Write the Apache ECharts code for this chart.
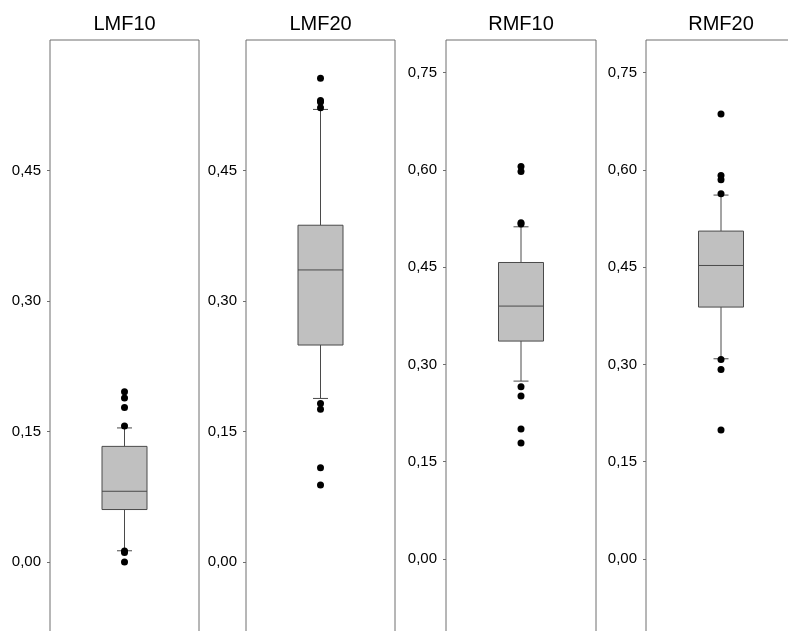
<!DOCTYPE html>
<html>
<head>
<meta charset="utf-8">
<script src="https://cdn.jsdelivr.net/npm/echarts@6/dist/echarts.min.js"></script>
<style>
html,body{margin:0;padding:0;background:#fff;}
#chart{width:788px;height:631px;}
</style>
</head>
<body>
<div id="chart"></div>
<script>
// ---- data ----
const categories = ['LMF10', 'LMF20', 'RMF10', 'RMF20'];
const whiskerLow  = [0.0129, 0.1880, 0.2743, 0.3087];
const q1          = [0.0603, 0.2494, 0.3360, 0.3884];
const median      = [0.0813, 0.3357, 0.3899, 0.4525];
const q3          = [0.1329, 0.3871, 0.4571, 0.5055];
const whiskerHigh = [0.1541, 0.5202, 0.5121, 0.5610];
const outliersLMF10 = [0.1957, 0.1885, 0.1777, 0.1564, 0.0126, 0.0108, 0.0];
const outliersLMF20 = [0.5559, 0.5306, 0.5286, 0.5222, 0.1822, 0.1757, 0.1082, 0.0886];
const outliersRMF10 = [0.6051, 0.5974, 0.5185, 0.5165, 0.2655, 0.2512, 0.2003, 0.1788];
const outliersRMF20 = [0.6858, 0.5912, 0.5845, 0.5630, 0.3076, 0.2922, 0.1988];
const outliers = [outliersLMF10, outliersLMF20, outliersRMF10, outliersRMF20];
const yMin = [-0.15, -0.15, -0.15, -0.15];
const yMax = [0.6, 0.6, 0.8, 0.8];
const yInterval = 0.15;

// ---- layout ----
const FONT = '"Liberation Sans", Arial, sans-serif';
const grids = [
  {left: 50,  top: 40, width: 149, height: 652.5},
  {left: 246, top: 40, width: 149, height: 652.5},
  {left: 446, top: 40, width: 150, height: 616.4},
  {left: 646, top: 40, width: 150, height: 616.4}
];

const chart = echarts.init(document.getElementById('chart'), null, {renderer: 'canvas'});

const option = {
  animation: false,
  backgroundColor: '#ffffff',
  title: categories.map((c, i) => ({
    text: c,
    left: grids[i].left + grids[i].width / 2,
    top: 14,
    padding: 0,
    textAlign: 'center',
    textStyle: {fontFamily: FONT, fontSize: 20, fontWeight: 'normal', color: '#000'}
  })),
  grid: grids.map(g => Object.assign({
    show: true, borderColor: '#6e6e6e', borderWidth: 1, backgroundColor: 'transparent',
    containLabel: false, outerBoundsMode: 'none'
  }, g)),
  xAxis: categories.map((c, i) => ({
    type: 'category', gridIndex: i, data: [c], show: false
  })),
  yAxis: categories.map((c, i) => ({
    type: 'value', gridIndex: i, min: yMin[i], max: yMax[i], interval: yInterval,
    splitLine: {show: false},
    axisLine: {show: false},
    axisTick: {show: true, length: 3, lineStyle: {color: '#6e6e6e'}},
    axisLabel: {
      showMaxLabel: false,
      showMinLabel: false,
      margin: 9,
      fontFamily: FONT, fontSize: 15, color: '#000',
      formatter: v => {
        if (Math.abs(v) < 1e-9) v = 0;
        return v.toFixed(2).replace('.', ',');
      }
    }
  })),
  series: []
};

categories.forEach((c, i) => {
  option.series.push({
    type: 'custom',
    xAxisIndex: i, yAxisIndex: i,
    encode: {x: 0, y: [1, 2, 3, 4, 5]},
    data: [[0, whiskerLow[i], q1[i], median[i], q3[i], whiskerHigh[i]]],
    z: 2,
    renderItem: function (params, api) {
      const x = api.value(0);
      const pLo = api.coord([x, api.value(1)]);
      const pQ1 = api.coord([x, api.value(2)]);
      const pMed = api.coord([x, api.value(3)]);
      const pQ3 = api.coord([x, api.value(4)]);
      const pHi = api.coord([x, api.value(5)]);
      const cx = pMed[0];
      const bw = 45, cw = 15;
      const stroke = {stroke: '#4a4a4a', lineWidth: 1};
      return {
        type: 'group',
        children: [
          {type: 'line', shape: {x1: cx, y1: pQ3[1], x2: cx, y2: pHi[1]}, style: stroke},
          {type: 'line', shape: {x1: cx, y1: pQ1[1], x2: cx, y2: pLo[1]}, style: stroke},
          {type: 'line', shape: {x1: cx - cw / 2, y1: pHi[1], x2: cx + cw / 2, y2: pHi[1]}, style: stroke},
          {type: 'line', shape: {x1: cx - cw / 2, y1: pLo[1], x2: cx + cw / 2, y2: pLo[1]}, style: stroke},
          {type: 'rect', shape: {x: cx - bw / 2, y: pQ3[1], width: bw, height: pQ1[1] - pQ3[1]},
           style: {fill: '#c0c0c0', stroke: '#4a4a4a', lineWidth: 1}},
          {type: 'line', shape: {x1: cx - bw / 2, y1: pMed[1], x2: cx + bw / 2, y2: pMed[1]}, style: stroke}
        ]
      };
    }
  });
  option.series.push({
    type: 'scatter',
    xAxisIndex: i, yAxisIndex: i,
    symbol: 'circle', symbolSize: 7,
    itemStyle: {color: '#000', opacity: 1},
    z: 5,
    data: outliers[i].map(v => [c, v])
  });
});

chart.setOption(option);
</script>
</body>
</html>
